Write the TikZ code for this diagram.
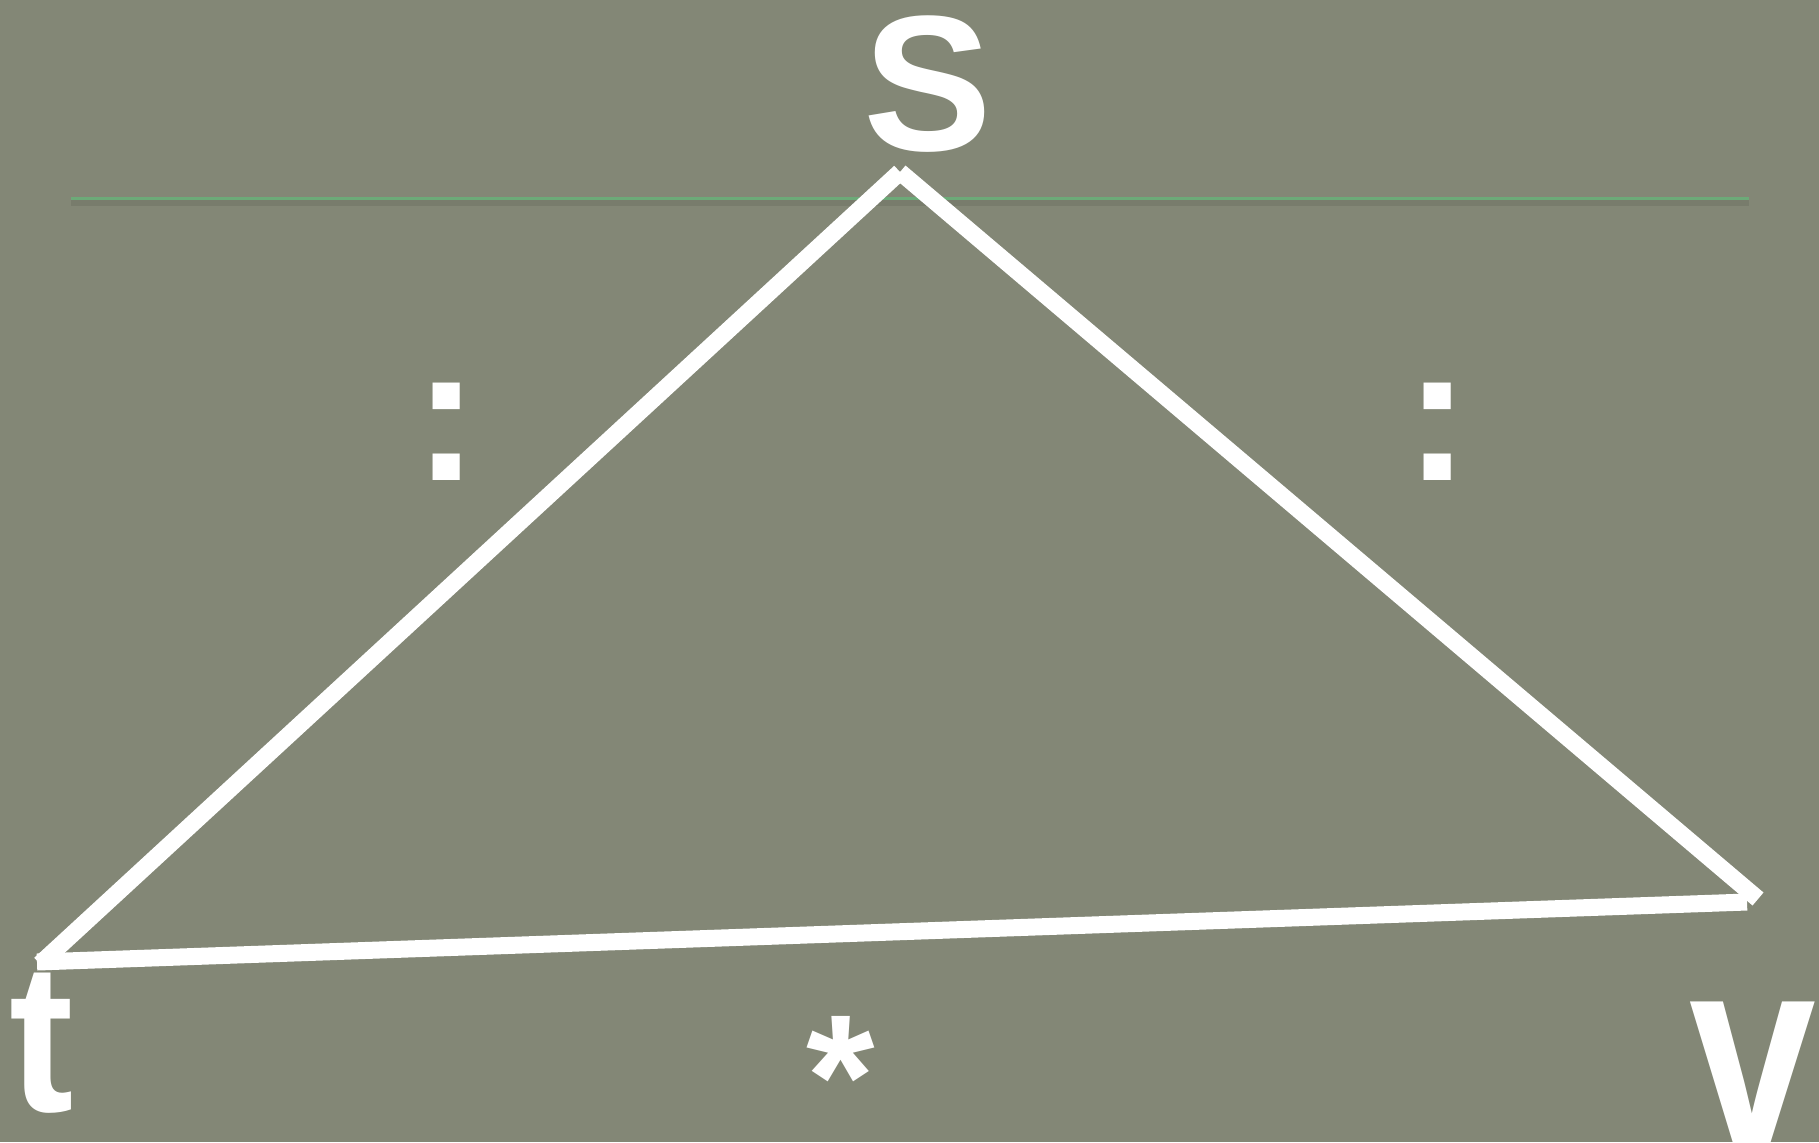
\documentclass[tikz,border=0pt]{standalone}
\usepackage{fontspec}
\setmainfont{Liberation Sans}
\definecolor{slate}{RGB}{131,135,118}
\definecolor{rulegreen}{RGB}{108,170,120}
\tikzset{
  edge/.style={draw=white,line width=8.5pt},
  vlabel/.style={text=white,inner sep=0pt,anchor=base,font=\bfseries\fontsize{96.5}{100}\selectfont}
}

\begin{document}
\begin{tikzpicture}[x=0.5pt,y=-0.5pt]
  \fill[slate] (0,0) rectangle (1819,1142);
  \useasboundingbox (0,0) rectangle (1819,1142);
  % rule under the apex
  \draw[black,opacity=0.08,line width=3pt] (71,203) -- (1749,203);
  \draw[rulegreen,line width=1.5pt] (71,198) -- (1749,198);
  % corners of the triangle
  \coordinate (s) at (900,172);
  \coordinate (t) at (40,964);
  \coordinate (tl) at (37,962);
  \coordinate (v) at (1758,899);
  \coordinate (vb) at (1747,902);
  \draw[edge] (t) -- (s);
  \draw[edge] (s) -- (v);
  \draw[edge] (tl) -- (vb);
  % labels
  \node[vlabel] (slbl) at (928,150) {S};
  \node[vlabel,yscale=1.1,transform shape] (tlbl) at (42,1111) {t};
  \node[vlabel,font=\bfseries\fontsize{134}{134}\selectfont,xscale=0.85,transform shape] (vlbl) at (1753,1143) {v};
  \node[vlabel,font=\bfseries\fontsize{88}{100}\selectfont] (star) at (841,1137) {*};
  \node[vlabel] (lcolon) at (447,480) {:};
  \node[vlabel] (rcolon) at (1438,480) {:};
\end{tikzpicture}
\end{document}
